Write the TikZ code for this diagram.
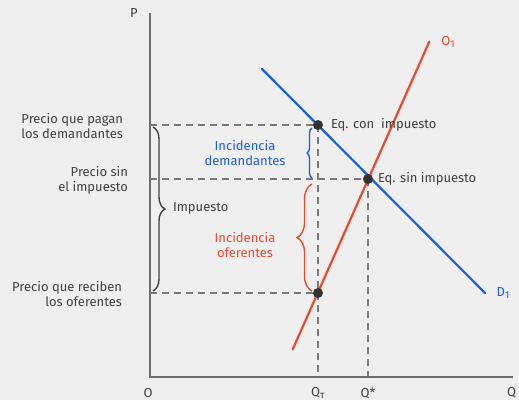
\documentclass[tikz,border=0pt]{standalone}
\usepackage{fontspec}
\setmainfont{Fira Sans}
\usetikzlibrary{decorations.pathreplacing}

\begin{document}
\begin{tikzpicture}[x=1pt,y=1pt,
  lbl/.style={text=textColor,inner sep=0pt,outer sep=0pt,font=\fontsize{13}{15}\selectfont},
  guide/.style={draw=guideColor,line width=1.4pt,dash pattern=on 7pt off 5pt},
  curve/.style={line width=2.2pt,line cap=round},
  eqdot/.style={circle,fill=dotColor,inner sep=0pt,minimum size=10pt},
  bracket/.style={line width=1.4pt,decorate,decoration={brace,amplitude=#1}}]
\definecolor{fillColor}{RGB}{239,239,239}
\definecolor{textColor}{RGB}{64,64,64}
\definecolor{axisColor}{RGB}{110,110,110}
\definecolor{guideColor}{RGB}{120,120,120}
\definecolor{dotColor}{RGB}{51,51,51}
\definecolor{demColor}{RGB}{27,94,222}
\definecolor{ofeColor}{RGB}{232,74,50}
\path[use as bounding box,fill=fillColor] (0,0) rectangle (519,400);

% axes
\coordinate (orig) at (150, 23);
\coordinate (ptop) at (150,387);
\coordinate (qend) at (513, 23);
\path[draw=axisColor,line width=1.6pt] (ptop) -- (orig) -- (qend);

% curves
\coordinate (dstart) at (262,331);
\coordinate (dend) at (485,107);
\coordinate (sstart) at (292.7, 50.7);
\coordinate (send) at (429.3,358.3);
\path[draw=demColor,curve] (dstart) -- (dend);
\path[draw=ofeColor,curve] (sstart) -- (send);

% equilibria
\coordinate (eqcon) at (318,275);
\coordinate (eqsin) at (368,221);
\coordinate (eqrec) at (318,107);
\coordinate (ypagan) at (150,275);
\coordinate (ysin) at (150,221);
\coordinate (yrec) at (150,107);
\coordinate (xtau) at (318, 23);
\coordinate (xstar) at (368, 23);

\path[guide] (ypagan) -- (eqcon);
\path[guide] (ysin) -- (eqsin);
\path[guide] (yrec) -- (eqrec);
\path[guide] (eqcon) -- (xtau);
\path[guide] (eqsin) -- (xstar);

\node[eqdot] (dotcon) at (eqcon) {};
\node[eqdot] (dotsin) at (eqsin) {};
\node[eqdot] (dotrec) at (eqrec) {};

% braces
\coordinate (imptop) at (153,273);
\coordinate (impbot) at (153,109);
\coordinate (demtop) at (312,272);
\coordinate (dembot) at (312,222);
\coordinate (ofetop) at (312,216);
\coordinate (ofebot) at (312,109);
\path[draw=textColor,bracket=12pt] (imptop) -- (impbot);
\path[draw=demColor,bracket=5pt] (dembot) -- (demtop);
\path[draw=ofeColor,bracket=15pt] (ofebot) -- (ofetop);

% labels
\node[lbl,anchor=center] (plbl) at (134,387) {P};
\node[lbl,anchor=center] (olbl) at (148,7) {O};
\node[lbl,anchor=center] (qtaulbl) at (318,7) {Q\raisebox{-0.4ex}{\fontsize{10}{10}\selectfont τ}};
\node[lbl,anchor=center] (qstarlbl) at (368,7) {Q*};
\node[lbl,anchor=west] (qlbl) at (507,7) {Q};
\node[lbl,anchor=center,text=ofeColor] (olbl1) at (448,358) {O\raisebox{-0.4ex}{\fontsize{10}{10}\selectfont 1}};
\node[lbl,anchor=center,text=demColor] (dlbl1) at (503,107) {D\raisebox{-0.4ex}{\fontsize{10}{10}\selectfont 1}};

\node[lbl,anchor=west] (conlbl) at (331,275) {Eq. con\ \ impuesto};
\node[lbl,anchor=west] (sinlbl) at (378,221) {Eq. sin impuesto};

\node[lbl,anchor=east,align=right] (paganlbl) at (123,274) {Precio que pagan\\los demandantes};
\node[lbl,anchor=east,align=right] (sinplbl) at (128,220) {Precio sin\\el impuesto};
\node[lbl,anchor=east,align=right] (reclbl) at (122,106) {Precio que reciben\\los oferentes};

\node[lbl,anchor=west] (implbl) at (173,192) {Impuesto};
\node[lbl,align=center,text=demColor] (demlbl) at (245,247) {Incidencia\\demandantes};
\node[lbl,align=center,text=ofeColor] (ofelbl) at (245,155) {Incidencia\\oferentes};
\end{tikzpicture}
\end{document}
